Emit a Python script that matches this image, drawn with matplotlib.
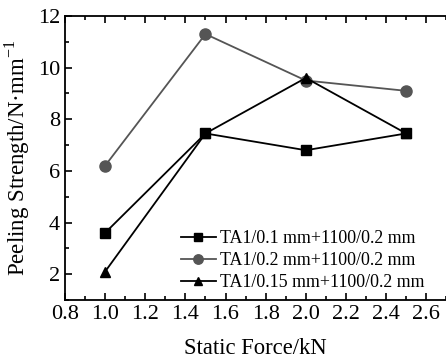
import matplotlib.pyplot as plt
from matplotlib.ticker import MultipleLocator

plt.rcParams['font.family'] = ['Liberation Serif', 'DejaVu Serif']
plt.rcParams['mathtext.fontset'] = 'custom'
plt.rcParams['mathtext.rm'] = 'Liberation Serif'

force = [1.0, 1.5, 2.0, 2.5]
s_01 = [3.6, 7.45, 6.8, 7.45]
s_02 = [6.2, 11.3, 9.5, 9.1]
s_015 = [2.1, 7.45, 9.6, 7.45]
labels = ['TA1/0.1 mm+1100/0.2 mm', 'TA1/0.2 mm+1100/0.2 mm',
          'TA1/0.15 mm+1100/0.2 mm']

fig = plt.figure(figsize=(4.46, 3.63), dpi=100)
ax = fig.add_axes([0.1457, 0.1736, 0.855, 0.7824])

ax.plot(force, s_01, '-s', color='black', lw=1.3, ms=7, label=labels[0])
ax.plot(force, s_02, '-o', color='#555555', lw=1.3, ms=8, label=labels[1])
ax.plot(force, s_015, '-^', color='black', lw=1.3, ms=7, label=labels[2])

ax.set_xlim(0.8, 2.7)
ax.set_ylim(1, 12)
ax.xaxis.set_major_locator(MultipleLocator(0.2))
ax.xaxis.set_minor_locator(MultipleLocator(0.1))
ax.yaxis.set_major_locator(MultipleLocator(2))
ax.yaxis.set_minor_locator(MultipleLocator(1))
ax.tick_params(which='both', direction='in', top=True, right=False, labelsize=16, width=1.2)
ax.tick_params(which='major', length=5)
ax.tick_params(which='minor', length=3)
for sp in ax.spines.values():
    sp.set_linewidth(1.3)
ax.spines['right'].set_visible(False)

ax.set_xlabel('Static Force/kN', fontsize=16.3, labelpad=10)
ax.set_ylabel('Peeling Strength/N\u00b7mm$^{-1}$', fontsize=16.5, labelpad=4)

ax.legend(loc='lower right', bbox_to_anchor=(0.985, -0.025), frameon=False, fontsize=12.9,
          handlelength=2.0, handletextpad=0.2, labelspacing=0.28, markerscale=0.85)

fig.savefig('out.png', dpi=100)
